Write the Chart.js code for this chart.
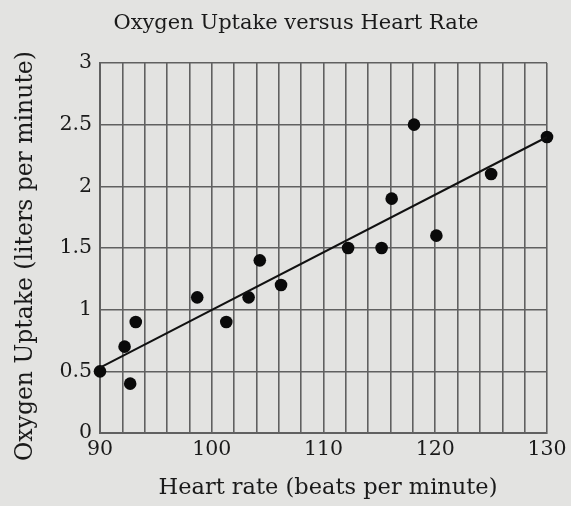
<!DOCTYPE html>
<html>
<head>
<meta charset="utf-8">
<script src="https://cdn.jsdelivr.net/npm/chart.js@4/dist/chart.umd.min.js"></script>
<style>
  html, body { margin: 0; padding: 0; background: #e3e3e1; }
  #wrap { width: 571px; height: 506px; position: relative; }
</style>
</head>
<body>
<div id="wrap"><canvas id="c" width="571" height="506"></canvas></div>
<script>
// Heart rate (beats per minute) and oxygen uptake (liters per minute) for each subject
const heartRate = [90, 92.2, 92.7, 93.2, 98.7, 101.3, 103.3, 104.3, 106.2, 112.2, 115.2, 116.1, 118.1, 120.1, 125.0, 130];
const oxygenUptake = [0.5, 0.7, 0.4, 0.9, 1.1, 0.9, 1.1, 1.4, 1.2, 1.5, 1.5, 1.9, 2.5, 1.6, 2.1, 2.4];

// Least-squares fit line endpoints
const fitX = [90, 130];
const fitY = [0.53, 2.40];

// Axis ranges and labelled ticks
const xRange = [90, 130];
const yRange = [0, 3];
const xLabelled = [90, 100, 110, 120, 130];

const titleText = 'Oxygen Uptake versus Heart Rate';
const xTitle = 'Heart rate (beats per minute)';
const yTitle = 'Oxygen Uptake (liters per minute)';

const SERIF = '"DejaVu Serif", serif';
const INK = '#1a1a1a';
const GRID = '#606060';

const points = heartRate.map((x, i) => ({ x, y: oxygenUptake[i] }));
const fit = fitX.map((x, i) => ({ x, y: fitY[i] }));

// Paper background plus chart title and axis titles
const paper = {
  id: 'paper',
  beforeDraw(chart) {
    const ctx = chart.ctx;
    ctx.save();
    ctx.fillStyle = '#e3e3e1';
    ctx.fillRect(0, 0, chart.width, chart.height);
    ctx.restore();
  },
  afterDraw(chart) {
    const ctx = chart.ctx;
    ctx.save();
    ctx.fillStyle = INK;
    ctx.textAlign = 'center';
    ctx.textBaseline = 'alphabetic';
    ctx.font = '21px ' + SERIF;
    ctx.fillText(titleText, 296, 29);
    ctx.font = '22.5px ' + SERIF;
    ctx.fillText(xTitle, 328, 494);
    ctx.translate(26, 256);
    ctx.rotate(-Math.PI / 2);
    ctx.font = '23.5px ' + SERIF;
    ctx.textBaseline = 'middle';
    ctx.fillText(yTitle, 0, 0);
    ctx.restore();
  }
};

new Chart(document.getElementById('c'), {
  type: 'scatter',
  data: {
    datasets: [
      {
        type: 'line',
        data: fit,
        borderColor: '#111',
        borderWidth: 2,
        pointRadius: 0,
        fill: false,
        clip: false
      },
      {
        data: points,
        backgroundColor: '#0a0a0a',
        borderColor: '#0a0a0a',
        pointRadius: 6.3,
        pointBorderWidth: 0,
        pointHoverRadius: 6.3,
        clip: false
      }
    ]
  },
  options: {
    responsive: false,
    animation: false,
    devicePixelRatio: 1,
    layout: { padding: { top: 63, right: 24, left: 0, bottom: 0 } },
    plugins: {
      legend: { display: false },
      tooltip: { enabled: false },
      title: { display: false }
    },
    scales: {
      x: {
        type: 'linear',
        min: xRange[0],
        max: xRange[1],
        afterFit(scale) { scale.height = 73; },
        border: { display: true, color: GRID, width: 2 },
        grid: { color: GRID, lineWidth: 1.6, drawTicks: false },
        ticks: {
          stepSize: 2,
          autoSkip: false,
          maxRotation: 0,
          padding: 4,
          color: INK,
          font: { family: SERIF, size: 20.5 },
          callback: v => (xLabelled.includes(v) ? String(v) : '')
        }
      },
      y: {
        type: 'linear',
        min: yRange[0],
        max: yRange[1],
        afterFit(scale) { scale.width = 100; },
        border: { display: true, color: GRID, width: 2 },
        grid: { color: GRID, lineWidth: 1.6, drawTicks: false },
        ticks: {
          stepSize: 0.5,
          padding: 8,
          color: INK,
          font: { family: SERIF, size: 20.5 },
          callback: v => String(v)
        }
      }
    }
  },
  plugins: [paper]
});
</script>
</body>
</html>
